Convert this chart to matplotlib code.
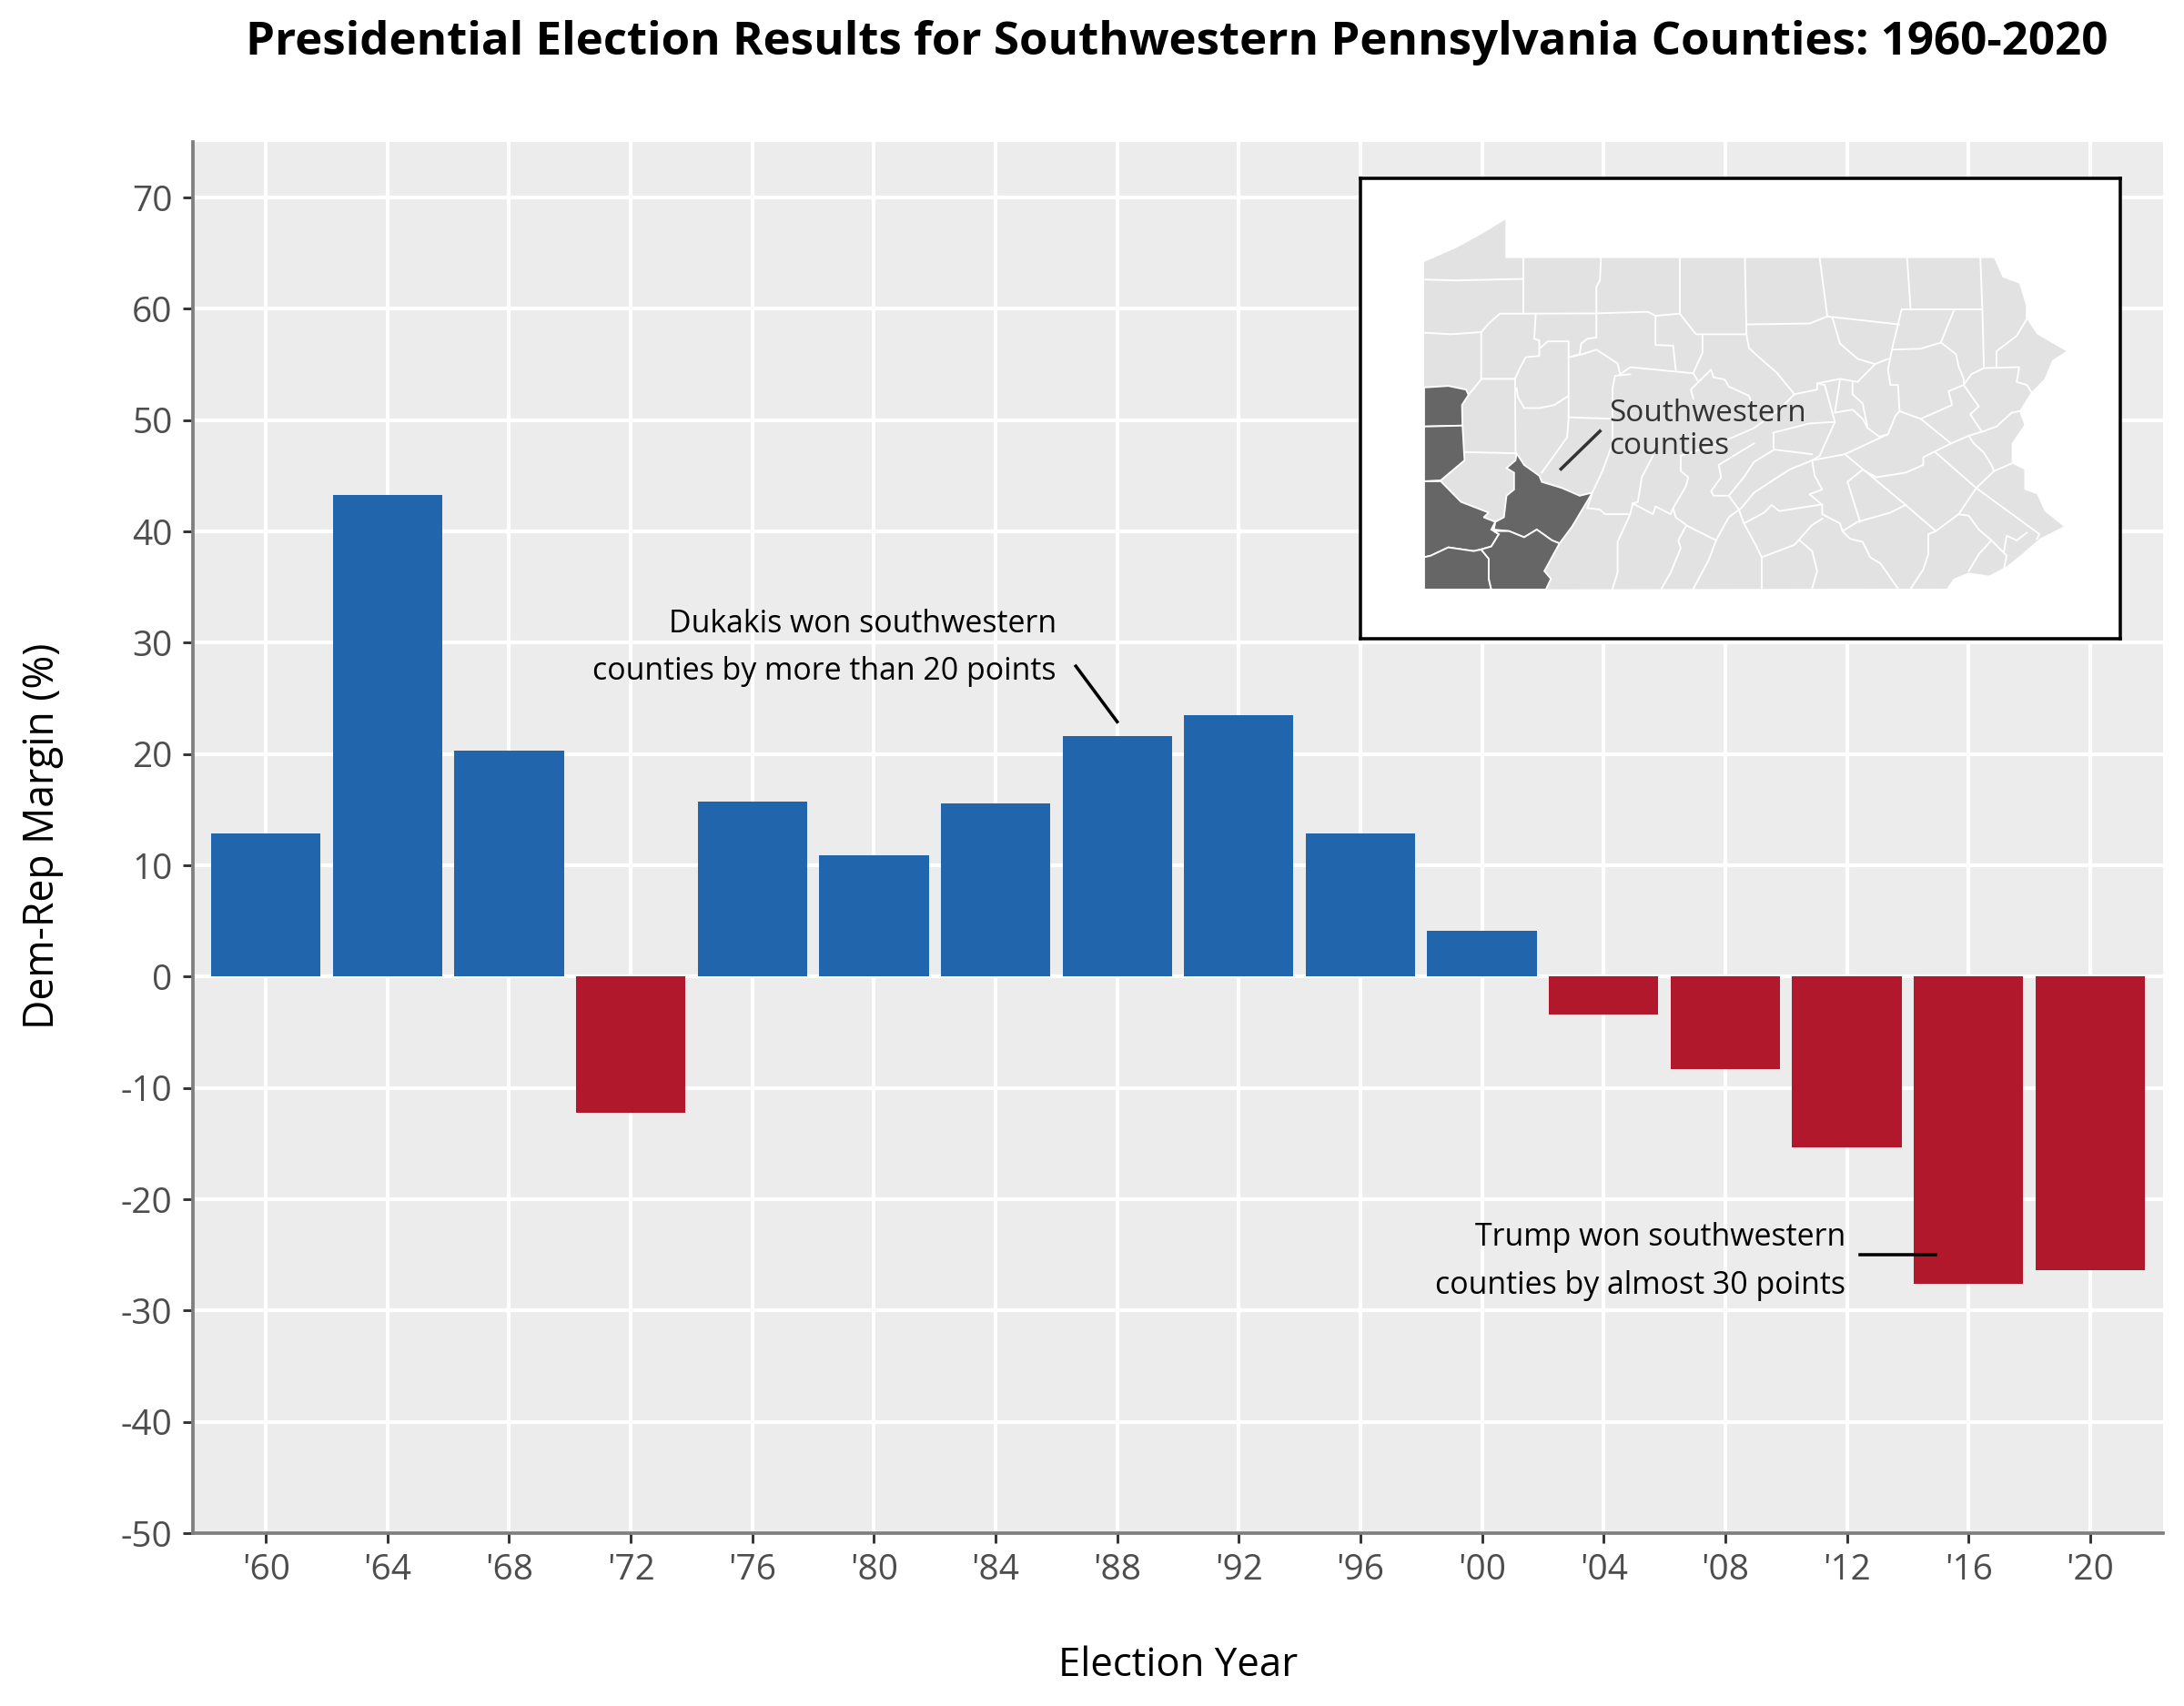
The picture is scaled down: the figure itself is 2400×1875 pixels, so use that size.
import matplotlib
matplotlib.use('Agg')
import matplotlib.pyplot as plt
from matplotlib.patches import Polygon

plt.rcParams['font.family'] = ['Open Sans', 'DejaVu Sans']
plt.rcParams['axes.unicode_minus'] = False#the reference uses plain hyphens

#election data
year_labels = ["'60", "'64", "'68", "'72", "'76", "'80", "'84", "'88",
               "'92", "'96", "'00", "'04", "'08", "'12", "'16", "'20"]
margins = [12.9, 43.3, 20.3, -12.2, 15.7, 10.9, 15.6, 21.6,
           23.5, 12.9, 4.1, -3.4, -8.3, -15.3, -27.6, -26.4]
y_ticks = [-50, -40, -30, -20, -10, 0, 10, 20, 30, 40, 50, 60, 70]

#map outlines
state_outline = [(117,290),(180,245),(230,200),(278,152),(278,277),(1245,277),(1262,340),(1295,360),
                 (1308,430),(1308,470),(1330,525),(1388,580),(1360,610),(1345,670),(1318,715),(1295,775),
                 (1305,820),(1280,880),(1280,945),(1305,965),(1305,1030),(1330,1045),(1345,1100),(1383,1150),
                 (1335,1190),(1300,1240),(1270,1280),(1235,1310),(1195,1300),(1165,1320),(1152,1352),(117,1355)]

sw_counties = [
    [(117,698),(165,693),(200,705),(205,722),(192,755),(193,822),(117,825)],
    [(117,825),(193,822),(197,935),(150,1000),(117,1003)],
    [(117,1003),(150,1003),(190,1070),(245,1105),(235,1120),(258,1135),(250,1160),(265,1175),(250,1215),
     (228,1225),(215,1230),(165,1218),(130,1245),(117,1250)],
    [(117,1250),(130,1245),(165,1218),(215,1230),(230,1225),(245,1255),(245,1320),(250,1355),(117,1355)],
    [(300,912),(315,950),(345,985),(350,1005),(390,1025),(425,1050),(450,1040),(410,1150),(385,1205),
     (370,1195),(340,1160),(315,1185),(285,1165),(255,1160),(258,1135),(275,1120),(280,1050),(295,1030),
     (295,975),(280,960),(298,935)],
    [(255,1165),(285,1165),(315,1185),(340,1160),(370,1195),(385,1205),(355,1295),(368,1320),(358,1355),
     (250,1355),(245,1320),(245,1255),(230,1225),(250,1215),(265,1175)],
]

county_lines = [
    [(117,347),(180,350),(313,345)],
    [(313,277),(313,455)],
    [(117,520),(170,525),(230,518),(245,490),(267,458),(338,458),(458,457),(560,452),(575,465),(623,458),(655,525),(755,525)],
    [(467,277),(465,350),(458,370),(458,457),(458,535)],
    [(623,277),(623,458)],
    [(752,277),(755,525)],
    [(900,277),(915,465)],
    [(1073,277),(1080,445)],
    [(1218,277),(1222,445),(1225,630)],
    [(755,493),(880,490),(915,467),(1057,493)],
    [(1062,445),(1222,445)],
    [(1062,445),(1043,575),(1035,640),(1040,690),(1055,690),(1058,775),(1100,800)],
    [(1165,450),(1150,510),(1140,552),(1100,572),(1043,575)],
    [(925,470),(940,555),(975,605),(1010,622),(1035,605)],
    [(230,518),(230,670),(297,670),(298,910)],
    [(230,672),(205,722)],
    [(197,908),(298,912)],
    [(338,458),(335,540),(345,545),(345,595),(318,600),(305,640),(297,670)],
    [(345,572),(362,548),(403,548),(403,800),(400,860),(350,975)],
    [(403,600),(425,590),(428,555),(440,540),(458,535)],
    [(403,600),(430,590),(458,575),(500,620),(505,655),(525,632),(650,652),(660,680)],
    [(300,700),(303,730),(315,765),(345,765),(375,755),(403,725)],
    [(403,795),(490,800)],
    [(525,655),(495,660),(490,700),(490,880),(470,970),(450,1040),(440,1090)],
    [(575,465),(575,560),(610,562),(615,640)],
    [(668,530),(668,585),(650,650)],
    [(755,525),(760,570),(780,600),(815,650),(850,720),(895,705),(895,685),(940,670),(975,680),(1010,622)],
    [(660,680),(685,640),(690,665),(712,672),(720,695),(760,725),(770,770)],
    [(660,680),(645,705),(650,735)],
    [(850,720),(820,770),(770,830),(700,880),(625,920),(625,970),(640,990),(635,1020),(610,1090),(615,1120),(640,1150),(695,1195)],
    [(570,920),(548,990),(540,1070),(530,1075),(570,1110),(575,1085),(605,1110),(610,1090)],
    [(440,1090),(465,1095),(475,1110),(525,1110),(500,1200),(500,1300),(490,1352)],
    [(530,1075),(525,1110)],
    [(635,1150),(620,1195),(625,1220),(605,1300),(587,1352)],
    [(695,1195),(680,1260),(650,1352)],
    [(695,1195),(720,1120),(745,1090),(770,1040),(840,965),(885,935),(950,915),(1035,850),(1050,790),(1058,775)],
    [(950,915),(1070,1080),(1130,1165)],
    [(885,935),(890,985),(905,1030),(880,1045),(905,1080),(905,1110),(940,1140),(945,1165),(960,1190),(985,1200),(1000,1250),(1020,1270),(1055,1352)],
    [(905,1078),(820,1100),(805,1080),(790,1105),(750,1140),(740,1095),(720,1050),(690,1050),(685,1035),(705,990),(700,950),(770,880)],
    [(720,1050),(750,990),(770,940),(810,900),(885,915)],
    [(808,845),(808,895)],
    [(808,845),(880,815),(930,810),(900,920),(885,935)],
    [(750,1140),(775,1215),(785,1250),(850,1210),(885,1145),(905,1125)],
    [(785,1250),(785,1352)],
    [(860,1195),(885,1230),(895,1295),(885,1352)],
    [(945,1165),(975,1135),(1040,1105),(1070,1080)],
    [(1130,1165),(1115,1175),(1115,1240),(1105,1290),(1080,1352)],
    [(1130,1165),(1175,1110),(1210,1025)],
    [(1130,910),(1210,1025),(1335,1175),(1330,1190)],
    [(1175,1110),(1195,1115),(1215,1160),(1240,1195),(1270,1245),(1265,1285)],
    [(1240,1195),(1215,1240),(1195,1295)],
    [(1265,1230),(1270,1180),(1290,1195),(1310,1170)],
    [(1012,990),(1070,975),(1105,950),(1105,925),(1160,880),(1195,855),(1225,840),(1250,825),(1280,780),(1295,775)],
    [(1012,990),(985,965),(955,1005),(980,1135)],
    [(1100,800),(1160,880)],
    [(1100,800),(1162,755),(1155,710),(1185,690),(1215,760),(1198,785),(1220,840)],
    [(1185,690),(1200,655),(1225,635),(1295,632),(1290,680),(1310,690),(1320,715)],
    [(1140,552),(1170,590),(1175,630),(1185,670),(1185,690)],
    [(1310,475),(1290,530),(1250,580),(1250,635)],
    [(1195,855),(1205,880),(1225,910),(1240,950),(1245,970),(1280,945)],
    [(1245,970),(1210,1025)],
    [(895,685),(910,690),(920,750),(930,810)],
    [(940,675),(930,780),(965,770),(985,800),(995,830),(1018,858),(1035,850)],
    [(965,680),(965,720),(985,750),(995,830)],
]

W, H = 2400, 1875
fig = plt.figure(figsize=(8, 6.25), dpi=300)

#main axes, positions in pixels of the output
ax = fig.add_axes([212/W, 1 - 1685/H, (2377-212)/W, (1685-156)/H])
ax.set_facecolor('#ECECEC')
colors = ['#2166AC' if m > 0 else '#B2182B' for m in margins]
ax.bar(range(len(margins)), margins, width=0.9, color=colors, zorder=3)
ax.set_xlim(-0.6, 15.6)
ax.set_ylim(-50, 75)
ax.set_xticks(range(len(year_labels)))
ax.set_xticklabels(year_labels)
ax.set_yticks(y_ticks)
ax.grid(color='white', linewidth=1.0, zorder=1)
ax.set_axisbelow(True)
for side in ['top', 'right']:
    ax.spines[side].set_visible(False)
for side in ['left', 'bottom']:
    ax.spines[side].set_color('#7F7F7F')
    ax.spines[side].set_linewidth(0.9)
ax.tick_params(length=2.6, width=0.7, color='#333333', labelcolor='#4D4D4D', labelsize=9.3, pad=2.8)

#annotations
ax.text(6.5, 29.55, 'Dukakis won southwestern\ncounties by more than 20 points', ha='right', va='center',
        fontsize=8.15, linespacing=1.7, color='black', zorder=5)
ax.plot([6.66, 7.0], [27.9, 22.9], color='black', linewidth=0.85, zorder=5)
ax.text(12.99, -25.6, 'Trump won southwestern\ncounties by almost 30 points', ha='right', va='center',
        fontsize=8.15, linespacing=1.7, color='black', zorder=5)
ax.plot([13.11, 13.73], [-25, -25], color='black', linewidth=0.85, zorder=5)

fig.text(846*1.5306/W, 1 - 1196*1.5306/H, 'Election Year', ha='center', va='center', fontsize=10.5)
fig.text(31*1.5306/W, 1 - 600*1.5306/H, 'Dem-Rep Margin (%)', ha='center', va='center', rotation=90, fontsize=10.7)
fig.text(845*1.5306/W, 1 - 31*1.5306/H, 'Presidential Election Results for Southwestern Pennsylvania Counties: 1960-2020',
         ha='center', va='center', fontsize=12.25, fontweight='bold')

#inset map
inset = fig.add_axes([1495/W, 1 - 702/H, (2330-1495)/W, (702-196)/H], zorder=10)
inset.set_xlim(-9, 1495)
inset.set_ylim(1515, 18)
inset.set_xticks([])
inset.set_yticks([])
inset.set_facecolor('white')
for spine in inset.spines.values():
    spine.set_color('black')
    spine.set_linewidth(0.85)
inset.add_patch(Polygon(state_outline, closed=True, facecolor='#E2E2E2', edgecolor='none'))
for line in county_lines:
    inset.plot([p[0] for p in line], [p[1] for p in line], color='white', linewidth=0.45)
for county in sw_counties:
    inset.add_patch(Polygon(county, closed=True, facecolor='#666666', edgecolor='white', linewidth=0.45, zorder=3))
inset.plot([388, 465], [963, 840], color='#333333', linewidth=0.85, zorder=4)
inset.text(483, 836, 'Southwestern\ncounties', ha='left', va='center', fontsize=8.0, linespacing=1.13,
           color='#333333', zorder=5)

fig.savefig('out.png', dpi=300)
